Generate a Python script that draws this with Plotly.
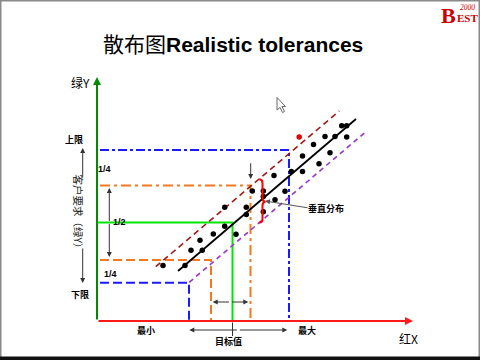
import plotly.graph_objects as go

# ---- data (diagram units: origin at the axis crossing, 1 unit ~ 1 px) ----
pts_x = [66, 88, 94, 105.3, 103, 116.3, 127.7, 139, 127.7, 149.3, 149.3,
         155.3, 166.3, 166.3, 166.3, 178, 188, 177, 194.3, 205.5, 205.5,
         222, 216.5, 228, 233, 238, 244.7, 249.7, 249.7]
pts_y = [55.5, 55.5, 70.7, 70.7, 80.7, 87, 94.7, 86.8, 113.8, 113.7, 106.5,
         130, 130, 124.5, 109.3, 121.3, 129.7, 145.5, 149.5, 149.5, 165,
         157.2, 176.5, 184.5, 168.3, 184.5, 195.3, 195.3, 184]
out_x = [202.2]
out_y = [184.0]

fit_x = [81, 259]
fit_y = [50, 202]
upper_x = [58.7, 242.3]
upper_y = [54.3, 210]
lower_x = [92.3, 269.7]
lower_y = [38.7, 190]

# tolerance levels: upper limit, 3/4, target, 1/4, lower limit
y_levels = [171, 135.5, 98.5, 61, 38.3]
x_levels = [192, 153.5, 135.5, 114, 92]
level_start = [3, 3, 0, 3, 3]
level_color = ["#1a1aff", "#f5781e", "#00e600", "#f5781e", "#1a1aff"]
level_dash = ["9px,3px,3px,3px", "10px,4px,3px,4px", "solid", "9px,4px", "9px,4px"]

fig = go.Figure()

for i in range(len(y_levels)):
    fig.add_trace(go.Scatter(
        x=[level_start[i], x_levels[i], x_levels[i]],
        y=[y_levels[i], y_levels[i], 0],
        mode="lines",
        line=dict(color=level_color[i], width=2, dash=level_dash[i]),
        hoverinfo="skip"))

fig.add_trace(go.Scatter(x=upper_x, y=upper_y, mode="lines",
                         line=dict(color="#a01818", width=1.6, dash="6px,4px"), hoverinfo="skip"))
fig.add_trace(go.Scatter(x=lower_x, y=lower_y, mode="lines",
                         line=dict(color="#9a34c8", width=1.6, dash="5px,4px"), hoverinfo="skip"))
fig.add_trace(go.Scatter(x=fit_x, y=fit_y, mode="lines",
                         line=dict(color="black", width=1.8), hoverinfo="skip"))
fig.add_trace(go.Scatter(x=pts_x, y=pts_y, mode="markers",
                         marker=dict(color="black", size=5.5)))
fig.add_trace(go.Scatter(x=out_x, y=out_y, mode="markers",
                         marker=dict(color="#e00000", size=5.5)))


def arrow(x, y, ax, ay, color="black", width=1, head=2, size=1):
    return dict(x=x, y=y, ax=ax, ay=ay, xref="x", yref="y", axref="x", ayref="y",
                text="", showarrow=True, arrowhead=head, arrowsize=size,
                arrowwidth=width, arrowcolor=color, standoff=0)


def label(x, y, text, size=9, bold=True, color="black", family="Noto Sans CJK SC", **kw):
    t = "<b>%s</b>" % text if bold else text
    d = dict(x=x, y=y, xref="x", yref="y", text=t, showarrow=False,
             font=dict(size=size, color=color, family=family),
             xanchor="center", yanchor="middle")
    d.update(kw)
    return d


annotations = [
    # axes
    arrow(0, 244, 0, 0, color="#008a00", width=2, head=2, size=0.8),
    arrow(316, 0, 0, 0, color="#ff1a1a", width=2, head=2, size=0.8),
    # customer requirement double arrow (interrupted by the vertical label)
    arrow(-14.3, 173, -14.3, 142, color="#333333"),
    arrow(-14.3, 38, -14.3, 74, color="#333333"),
    # inner 1/2 double arrow
    arrow(12.3, 133, 12.3, 98.5, color="#333333"),
    arrow(12.3, 64, 12.3, 98.5, color="#333333"),
    # small down arrow
    arrow(153.7, 142, 153.7, 159.3, color="#333333"),
    # horizontal double arrow between limits
    arrow(115.7, 19, 133.5, 19, color="#333333"),
    arrow(151.3, 19, 133.5, 19, color="#333333"),
    # min-max arrow under x axis
    arrow(92.3, -9, 141.3, -9, color="#333333"),
    arrow(190.3, -9, 141.3, -9, color="#333333"),
    # target tick
    arrow(135.5, -15, 135.5, 0, color="#333333", head=0),
    # vertical distribution pointer
    arrow(168, 120, 212, 113, color="#555555"),
    # texts
    dict(x=136, y=277, xref="x", yref="y", showarrow=False,
         text="散布图<b>Realistic tolerances</b>",
         font=dict(size=21, color="black", family="Liberation Sans, Noto Sans CJK SC"),
         xanchor="center", yanchor="middle"),
    label(-17, 238.5, "绿Y", size=12, bold=False),
    label(-23, 182, "上限"),
    label(-17, 27, "下限"),
    label(7.5, 152, "1/4", family="Liberation Sans"),
    label(22.5, 99, "1/2", family="Liberation Sans"),
    label(13, 47, "1/4", family="Liberation Sans"),
    label(49, -9, "最小"),
    label(210, -9, "最大"),
    label(131.5, -20, "目标值"),
    label(311, -17, "红X", size=12, bold=False),
    label(229, 112.5, "垂直分布"),
    label(-19, 107.5, "客户要求（绿Y）", size=10.5, bold=False, color="#222222",
          textangle=90, borderpad=0),
    # logo
    dict(x=360, y=306, xref="x", yref="y", showarrow=False, text="<b>B</b>",
         font=dict(size=22, color="#cc0000", family="Liberation Serif"),
         xanchor="right", yanchor="middle", borderpad=0),
    dict(x=359, y=303.5, xref="x", yref="y", showarrow=False, text="<b>EST</b>",
         font=dict(size=11, color="#cc0000", family="Liberation Serif"),
         xanchor="left", yanchor="middle", borderpad=0),
    dict(x=370, y=314, xref="x", yref="y", showarrow=False, text="<i>2000</i>",
         font=dict(size=7.5, color="#cc0000", family="Liberation Serif"),
         xanchor="center", yanchor="middle", borderpad=0),
]

shapes = [
    # red brace
    dict(type="path", xref="x", yref="y",
         path="M 162.3,141.7 Q 165.5,141.5 165.5,138 L 165.5,123 Q 165.5,119.5 168.5,119.3 "
              "Q 165.5,119 165.5,115.5 L 165.5,102 Q 165.5,98.5 162.3,98.3",
         line=dict(color="#ff0000", width=2)),
    # mouse cursor
    dict(type="path", xref="x", yref="y",
         path="M 180,223.5 L 180,211 L 183,213.5 L 185.5,208.5 L 187.5,209.5 L 185,214.5 L 188.5,214.5 Z",
         fillcolor="white", line=dict(color="#666666", width=1)),
    # frame
    dict(type="rect", xref="paper", yref="paper", x0=0, y0=0, x1=1, y1=1,
         line=dict(color="#8a8a8a", width=3)),
    dict(type="rect", xref="x", yref="y", x0=-97, x1=383, y0=-39, y1=-35.5,
         fillcolor="#111111", line=dict(width=0)),
]

fig.update_layout(
    width=480, height=360,
    margin=dict(l=0, r=0, t=0, b=0),
    paper_bgcolor="white", plot_bgcolor="white",
    showlegend=False,
    xaxis=dict(range=[-97, 383], visible=False, fixedrange=True),
    yaxis=dict(range=[-39, 321], visible=False, fixedrange=True),
    annotations=annotations,
    shapes=shapes,
)

fig.write_html("out.html", config={"displayModeBar": False},
               post_script="document.body.style.margin='0';document.body.style.padding='0';")
